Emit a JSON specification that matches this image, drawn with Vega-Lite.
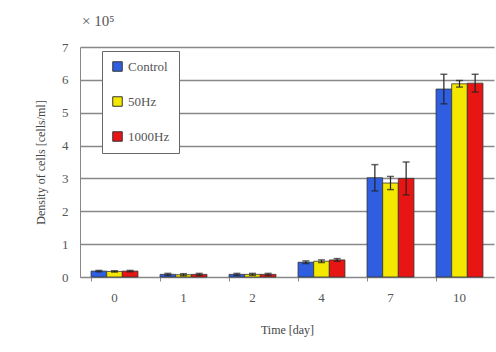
{
  "$schema": "https://vega.github.io/schema/vega-lite/v6.json",
  "autosize": {"type": "none"},
  "padding": {"left": 80, "top": 47, "right": 2, "bottom": 75},
  "width": 414,
  "height": 230,
  "background": "white",
  "title": {"text": "× 10⁵", "anchor": "start", "frame": "group", "font": "Liberation Serif", "fontSize": 15, "fontWeight": "normal", "color": "#555555", "offset": 12, "dx": 2},
  "config": {
    "view": {"stroke": null},
    "font": "Liberation Serif",
    "title": {"font": "Liberation Serif"},
    "legend": {"labelFont": "Liberation Serif", "titleFont": "Liberation Serif"},
    "axis": {"labelFont": "Liberation Serif", "titleFont": "Liberation Serif", "labelColor": "#555555", "titleColor": "#444444", "titleFontWeight": "normal", "labelFontSize": 13, "titleFontSize": 12}
  },
  "data": {"values": [
    {"day": "0", "group": "Control", "value": 0.18, "err": 0.02},
    {"day": "0", "group": "50Hz", "value": 0.17, "err": 0.02},
    {"day": "0", "group": "1000Hz", "value": 0.18, "err": 0.02},
    {"day": "1", "group": "Control", "value": 0.08, "err": 0.03},
    {"day": "1", "group": "50Hz", "value": 0.07, "err": 0.03},
    {"day": "1", "group": "1000Hz", "value": 0.08, "err": 0.03},
    {"day": "2", "group": "Control", "value": 0.08, "err": 0.03},
    {"day": "2", "group": "50Hz", "value": 0.08, "err": 0.03},
    {"day": "2", "group": "1000Hz", "value": 0.08, "err": 0.03},
    {"day": "4", "group": "Control", "value": 0.45, "err": 0.04},
    {"day": "4", "group": "50Hz", "value": 0.48, "err": 0.04},
    {"day": "4", "group": "1000Hz", "value": 0.52, "err": 0.04},
    {"day": "7", "group": "Control", "value": 3.02, "err": 0.4},
    {"day": "7", "group": "50Hz", "value": 2.86, "err": 0.2},
    {"day": "7", "group": "1000Hz", "value": 3.0, "err": 0.5},
    {"day": "10", "group": "Control", "value": 5.72, "err": 0.45},
    {"day": "10", "group": "50Hz", "value": 5.88, "err": 0.1},
    {"day": "10", "group": "1000Hz", "value": 5.9, "err": 0.27}
  ]},
  "transform": [
    {"calculate": "datum.value + datum.err", "as": "hi"},
    {"calculate": "datum.value - datum.err", "as": "lo"}
  ],
  "encoding": {
    "x": {"field": "day", "type": "nominal", "sort": ["0", "1", "2", "4", "7", "10"],
      "scale": {"paddingInner": 0.32, "paddingOuter": 0.16},
      "axis": {"title": "Time [day]", "labelAngle": 0, "labelPadding": 10, "titlePadding": 20, "domainColor": "#888888", "tickColor": "#888888", "tickSize": 4, "bandPosition": 0, "ticks": true, "grid": false}},
    "xOffset": {"field": "group", "type": "nominal", "sort": ["Control", "50Hz", "1000Hz"]}
  },
  "layer": [
    {
      "mark": {"type": "bar", "stroke": "#333333", "strokeWidth": 0.8},
      "encoding": {
        "y": {"field": "value", "type": "quantitative", "scale": {"domain": [0, 7], "nice": false},
          "axis": {"title": "Density of cells [cells/ml]", "values": [0, 1, 2, 3, 4, 5, 6, 7], "labelOverlap": false, "ticks": false, "labelPadding": 12, "titlePadding": 14, "gridColor": "#888888", "gridWidth": 1.5, "domainColor": "#888888"}},
        "color": {"field": "group", "type": "nominal", "sort": ["Control", "50Hz", "1000Hz"],
          "scale": {"domain": ["Control", "50Hz", "1000Hz"], "range": ["#2f5fe0", "#f5e800", "#e81515"]},
          "legend": {"title": null, "orient": "none", "legendX": 22, "legendY": 4, "symbolType": "square", "symbolSize": 90, "symbolStrokeColor": "#333333", "symbolStrokeWidth": 1, "rowPadding": 20, "labelFontSize": 13, "labelFont": "Liberation Serif", "labelColor": "#555555", "strokeColor": "#666666", "fillColor": "white", "padding": 9}}
      }
    },
    {
      "mark": {"type": "rule", "color": "#222222", "strokeWidth": 1.2},
      "encoding": {"y": {"field": "lo", "type": "quantitative",
          "axis": {"title": "Density of cells [cells/ml]", "values": [0, 1, 2, 3, 4, 5, 6, 7], "labelOverlap": false, "ticks": false, "labelPadding": 12, "titlePadding": 14, "gridColor": "#888888", "gridWidth": 1.5, "domainColor": "#888888"}}, "y2": {"field": "hi"}}
    },
    {
      "mark": {"type": "tick", "color": "#222222", "thickness": 1.5, "size": 7},
      "encoding": {"y": {"field": "hi", "type": "quantitative",
          "axis": {"title": "Density of cells [cells/ml]", "values": [0, 1, 2, 3, 4, 5, 6, 7], "labelOverlap": false, "ticks": false, "labelPadding": 12, "titlePadding": 14, "gridColor": "#888888", "gridWidth": 1.5, "domainColor": "#888888"}}}
    },
    {
      "mark": {"type": "tick", "color": "#222222", "thickness": 1.5, "size": 7},
      "encoding": {"y": {"field": "lo", "type": "quantitative",
          "axis": {"title": "Density of cells [cells/ml]", "values": [0, 1, 2, 3, 4, 5, 6, 7], "labelOverlap": false, "ticks": false, "labelPadding": 12, "titlePadding": 14, "gridColor": "#888888", "gridWidth": 1.5, "domainColor": "#888888"}}}
    }
  ]
}
